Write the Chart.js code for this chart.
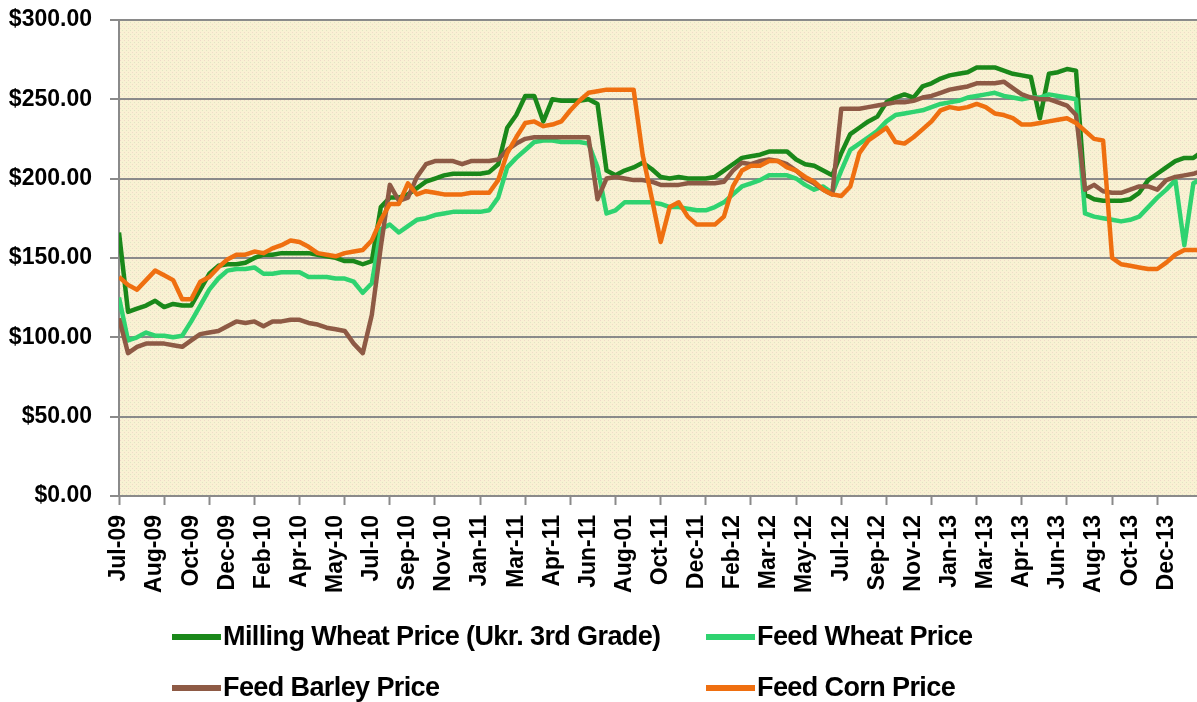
<!DOCTYPE html>
<html>
<head>
<meta charset="utf-8">
<title>Ukraine grain prices</title>
<script src="https://cdn.jsdelivr.net/npm/chart.js@4.4.1/dist/chart.umd.min.js"></script>
<style>
  html, body { margin: 0; padding: 0; background: #fff; overflow: hidden; }
  #wrap { position: relative; width: 1197px; height: 702px; overflow: hidden; }
  #wrap canvas { position: absolute; left: 0; top: -12px; }
  #legend {
    position: absolute; left: 172px; top: 611px;
    display: grid; grid-template-columns: 534px auto; grid-auto-rows: 51px;
    font: bold 27px "Liberation Sans", Arial, sans-serif;
    letter-spacing: -0.6px;
    color: #000;
  }
  .item { display: flex; align-items: center; white-space: nowrap; }
  .swatch { width: 49px; height: 6px; margin-right: 2px; }
</style>
</head>
<body>
<div id="wrap">
  <canvas id="priceChart" width="1240" height="714" style="width:1240px;height:714px"></canvas>
  <div id="legend"></div>
</div>
<script>
// ===== data (one value every 2 weeks, starting Jul-09) =====
const monthLabels = ["Jul-09","Aug-09","Oct-09","Dec-09","Feb-10","Apr-10","May-10","Jul-10","Sep-10","Nov-10",
  "Jan-11","Mar-11","Apr-11","Jun-11","Aug-01","Oct-11","Dec-11","Feb-12","Mar-12","May-12",
  "Jul-12","Sep-12","Nov-12","Jan-13","Mar-13","Apr-13","Jun-13","Aug-13","Oct-13","Dec-13"];

const seriesNames = ["Milling Wheat Price (Ukr. 3rd Grade)", "Feed Wheat Price", "Feed Barley Price", "Feed Corn Price"];

const millingWheat = [166,116,118,120,123,119,121,120,120,130,140,145,146,146,147,150,152,152,153,153,153,153,152,151,150,
  148,148,146,148,182,188,188,190,194,198,200,202,203,203,203,203,204,209,232,240,252,252,236,250,
  249,249,249,250,247,205,202,205,207,210,206,201,200,201,200,200,200,201,205,209,213,214,215,217,
  217,217,212,209,208,205,202,216,228,232,236,239,248,251,253,251,258,260,263,265,266,267,270,270,
  270,268,266,265,264,238,266,267,269,268,190,187,186,186,186,187,191,199,203,207,211,213,213,217];

const feedWheat = [125,98,100,103,101,101,100,101,110,120,130,137,142,143,143,144,140,140,141,141,141,138,138,138,137,
  137,135,128,134,168,171,166,170,174,175,177,178,179,179,179,179,180,188,207,213,218,223,224,224,
  223,223,223,222,207,178,180,185,185,185,185,184,182,182,181,180,180,182,185,190,195,197,199,202,
  202,202,200,196,193,195,191,205,218,222,226,230,236,240,241,242,243,245,247,248,249,251,252,253,
  254,252,251,250,251,251,253,252,251,250,178,176,175,174,173,174,176,182,188,193,199,158,197,200];

const feedBarley = [112,90,94,96,96,96,95,94,98,102,103,104,107,110,109,110,107,110,110,111,111,109,108,106,105,
  104,96,90,114,157,196,186,188,201,209,211,211,211,209,211,211,211,212,218,222,225,226,226,226,
  226,226,226,226,187,200,201,200,199,199,198,196,196,196,197,197,197,197,198,205,210,209,211,212,
  211,209,205,200,197,193,190,244,244,244,245,246,247,248,248,249,251,252,254,256,257,258,260,260,
  260,261,257,253,251,250,250,248,246,240,193,196,192,191,191,193,195,195,193,199,201,202,203,205];

const feedCorn = [138,133,130,136,142,139,136,124,124,135,138,144,149,152,152,154,153,156,158,161,160,157,153,152,151,
  153,154,155,161,174,184,184,197,190,192,191,190,190,190,191,191,191,199,216,226,235,236,233,234,
  236,243,249,254,255,256,256,256,256,215,188,160,182,185,176,171,171,171,176,195,205,208,208,211,
  211,207,205,201,198,193,190,189,195,216,224,228,232,223,222,226,231,236,243,245,244,245,247,245,
  241,240,238,234,234,235,236,237,238,235,230,225,224,150,146,145,144,143,143,147,152,155,155,155];

const seriesColors = ["#1a881a", "#2fd370", "#8e5a45", "#ef6f10"];

const LABEL_EVERY = 4;   // a month label every 4 points
const TICK_EVERY = 5;    // a tick mark every 5 points

const GRID = "#8a8a8a";
const tickFont = { family: "Liberation Sans", size: 23, weight: "bold" };

function toXY(values) {
  return values.map((y, i) => ({ x: i, y }));
}

// dotted cream fill of the plot area
function makePattern(ctx) {
  const c = document.createElement("canvas");
  c.width = 4; c.height = 4;
  const p = c.getContext("2d");
  p.fillStyle = "#f9f1d3"; p.fillRect(0, 0, 4, 4);
  p.fillStyle = "#f0dac9"; p.fillRect(0, 0, 1, 1);
  p.fillStyle = "#e0e5c4"; p.fillRect(2, 2, 1, 1);
  return ctx.createPattern(c, "repeat");
}

const plotBg = {
  id: "plotBg",
  beforeDraw(chart) {
    const { ctx, chartArea: a } = chart;
    ctx.save();
    ctx.fillStyle = makePattern(ctx);
    ctx.fillRect(a.left, a.top, a.right - a.left, a.bottom - a.top);
    ctx.restore();
  }
};

const allSeries = [millingWheat, feedWheat, feedBarley, feedCorn];

const chart = new Chart(document.getElementById("priceChart"), {
  type: "line",
  data: {
    datasets: allSeries.map((vals, k) => ({
      label: seriesNames[k],
      data: toXY(vals),
      borderColor: seriesColors[k],
      backgroundColor: seriesColors[k],
      borderWidth: 4.5,
      pointRadius: 0,
      tension: 0,
      fill: false,
      borderJoinStyle: "round",
      order: allSeries.length - 1 - k,
    })),
  },
  options: {
    responsive: false,
    animation: false,
    layout: { padding: { top: 7, left: 0, right: 0, bottom: 0 } },
    plugins: { legend: { display: false }, tooltip: { enabled: false } },
    scales: {
      x: {
        type: "linear",
        min: 0,
        max: millingWheat.length - 1,
        afterFit(scale) { scale.height = 206; },
        ticks: {
          stepSize: 1,
          autoSkip: false,
          minRotation: 90,
          maxRotation: 90,
          padding: 10,
          color: "#000",
          font: tickFont,
          callback: (v) => (v % LABEL_EVERY === 0 ? (monthLabels[v / LABEL_EVERY] ?? "") : ""),
        },
        grid: {
          drawOnChartArea: false,
          tickLength: 9,
          tickWidth: 2,
          tickColor: (ctx) => (ctx.tick && ctx.tick.value % TICK_EVERY === 0 ? GRID : "rgba(0,0,0,0)"),
        },
        border: { display: true, color: GRID, width: 2 },
      },
      y: {
        min: 0,
        max: 300,
        afterFit(scale) { scale.width = 119; },
        ticks: {
          stepSize: 50,
          padding: 18,
          color: "#000",
          font: tickFont,
          callback: (v) => "$" + Number(v).toFixed(2),
        },
        grid: { color: GRID, lineWidth: 2, tickLength: 9, tickColor: GRID },
        border: { display: true, color: GRID, width: 2 },
      },
    },
  },
  plugins: [plotBg],
});

// html legend in two columns, like the original
const legendBox = document.getElementById("legend");
chart.data.datasets.forEach((ds) => {
  const item = document.createElement("div");
  item.className = "item";
  const sw = document.createElement("span");
  sw.className = "swatch";
  sw.style.background = ds.borderColor;
  const txt = document.createElement("span");
  txt.textContent = ds.label;
  item.appendChild(sw);
  item.appendChild(txt);
  legendBox.appendChild(item);
});
</script>
</body>
</html>
